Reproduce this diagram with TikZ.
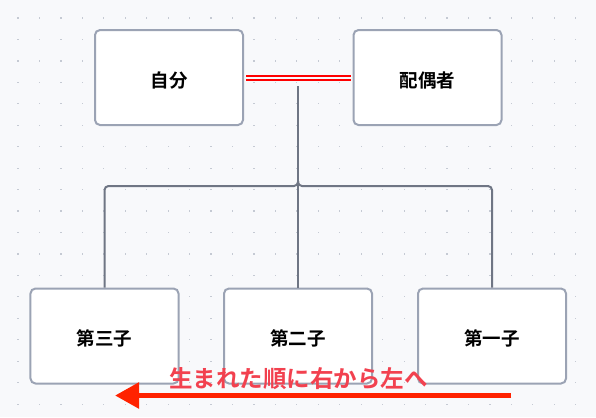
\documentclass[tikz,border=0pt]{standalone}
\usepackage{fontspec}
\setmainfont{Noto Sans CJK JP}[BoldFont=* Bold]
\usetikzlibrary{arrows.meta}
\definecolor{bgc}{HTML}{F8F9FB}
\definecolor{dotc}{HTML}{C5CAD3}
\definecolor{boxc}{HTML}{9BA3B4}
\definecolor{connc}{HTML}{6F7684}
\definecolor{wedred}{RGB}{255,0,0}
\definecolor{arrowc}{HTML}{FF2200}
\definecolor{notec}{HTML}{F2414F}
\tikzset{
  person/.style={draw=boxc, line width=2bp, fill=white, rounded corners=5bp,
    minimum width=148bp, minimum height=95bp, inner sep=0pt,
    text height=22bp, text depth=2.2bp,
    font=\bfseries\fontsize{18.5bp}{22bp}\selectfont},
  conn/.style={draw=connc, line width=2bp, rounded corners=4bp},
  wedline/.style={color=wedred, line width=2bp},
  orderarrow/.style={draw=arrowc, line width=5.5bp, -{Triangle[length=24bp,width=25bp]}},
  note/.style={text=notec, inner sep=0pt, font=\bfseries\fontsize{23.5bp}{28bp}\selectfont}
}
\begin{document}
\begin{tikzpicture}[x=1bp, y=-1bp]
\fill[bgc] (0,0) rectangle (596,417);
\useasboundingbox (0,0) rectangle (596,417);
\foreach \i in {0,...,27} {
  \foreach \j in {0,...,18} {
    \fill[dotc] ({18+21.45*\i-0.6},{18+21.45*\j-0.6}) rectangle ++(1.2,1.2);
  }
}
% connectors
\coordinate (top) at (298,86);
\coordinate (busup) at (298,181);
\coordinate (bus) at (298,186);
\node[person] (c3) at (104.5,336) {第三子};
\node[person] (c2) at (298,336) {第二子};
\node[person] (c1) at (492,336) {第一子};
\draw[conn] (busup) -- (bus) -| (c3.north);
\draw[conn] (busup) -- (bus) -| (c1.north);
\draw[conn] (top) -- (c2.north);
\node[person] (self) at (169,77.5) {自分};
\node[person] (spouse) at (427.5,77.5) {配偶者};
\draw[wedline] ([xshift=2bp,yshift=-2bp]self.east) -- ([xshift=-2bp,yshift=-2bp]spouse.west);
\draw[wedline] ([xshift=2bp,yshift=2bp]self.east) -- ([xshift=-2bp,yshift=2bp]spouse.west);
% arrow and note
\coordinate (as) at (511,395.5);
\coordinate (ae) at (115,395.5);
\draw[orderarrow] (as) -- (ae);
\node[note] (txt) at (298.5,378.5) {生まれた順に右から左へ};
\end{tikzpicture}
\end{document}
